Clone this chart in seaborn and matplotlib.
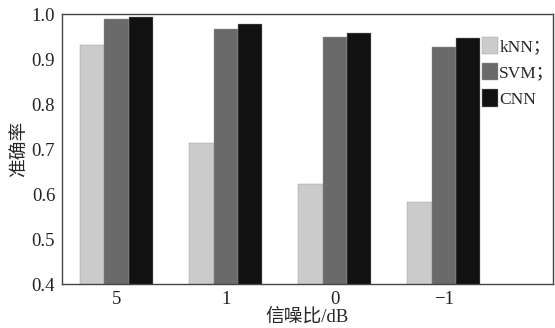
import pandas as pd
import matplotlib.pyplot as plt
import seaborn as sns

# values
snr_labels = ['5', '1', '0', '\u22121']
models = ['kNN；', 'SVM；', 'CNN']
knn_acc = [0.932, 0.713, 0.623, 0.582]
svm_acc = [0.990, 0.968, 0.948, 0.927]
cnn_acc = [0.993, 0.978, 0.959, 0.946]

colors = ['#cbcbcb', '#6a6a6a', '#111111']

sns.set_style('white')
plt.rcParams['font.family'] = ['Liberation Serif', 'Noto Sans CJK SC']
plt.rcParams['axes.unicode_minus'] = True

df = pd.DataFrame({
    'snr': snr_labels * 3,
    'model': [models[0]] * 4 + [models[1]] * 4 + [models[2]] * 4,
    'acc': knn_acc + svm_acc + cnn_acc,
})

fig, ax = plt.subplots(figsize=(5.55, 3.28), dpi=100)
sns.barplot(data=df, x='snr', y='acc', hue='model', palette=colors,
            width=0.67, order=snr_labels, hue_order=models, ax=ax,
            edgecolor='#999999', linewidth=0.3, saturation=1)

ax.set_ylim(0.4, 1.0)
ax.set_xlim(-0.5, 4.0)
ax.set_yticks([0.4, 0.5, 0.6, 0.7, 0.8, 0.9, 1.0])
ax.set_yticklabels(['0.4', '0.5', '0.6', '0.7', '0.8', '0.9', '1.0'])
ax.tick_params(length=0, labelsize=13.5, colors='#222222', pad=5)
ax.set_xlabel('信噪比/dB', fontsize=13.5, labelpad=0)
ax.set_ylabel('准确率', fontsize=13.5, labelpad=3)
for s in ax.spines.values():
    s.set_visible(True)
    s.set_color('#444444')
    s.set_linewidth(1.0)

ax.legend(loc='upper left', bbox_to_anchor=(0.846, 0.935), frameon=False,
          fontsize=12.5, handlelength=0.92, handleheight=1.15,
          handletextpad=0.05, labelspacing=0.45, borderaxespad=0.0,
          borderpad=0.3)

fig.subplots_adjust(left=0.112, right=0.996, top=0.957, bottom=0.134)
fig.savefig('out.png', dpi=100)
